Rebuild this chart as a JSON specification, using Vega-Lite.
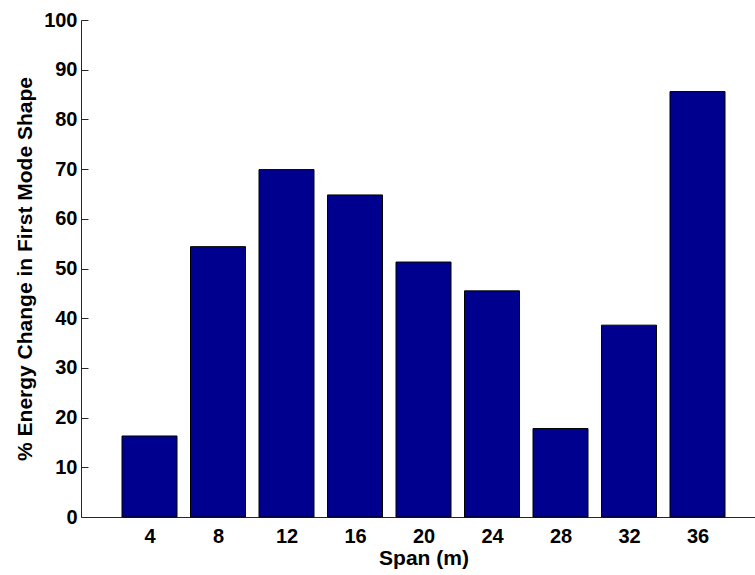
{
  "$schema": "https://vega.github.io/schema/vega-lite/v6.json",
  "autosize": {"type": "none"},
  "padding": {"left": 81, "top": 20, "right": 0, "bottom": 58},
  "width": 685,
  "height": 497,
  "background": "white",
  "data": {
    "values": [
      {"span": 4, "energy": 16.3},
      {"span": 8, "energy": 54.4},
      {"span": 12, "energy": 69.9},
      {"span": 16, "energy": 64.8},
      {"span": 20, "energy": 51.3},
      {"span": 24, "energy": 45.5},
      {"span": 28, "energy": 17.8},
      {"span": 32, "energy": 38.6},
      {"span": 36, "energy": 85.6}
    ]
  },
  "config": {
    "view": {"stroke": null},
    "axis": {
      "labelFont": "Liberation Sans",
      "titleFont": "Liberation Sans",
      "labelFontWeight": "bold",
      "titleFontWeight": "bold",
      "labelColor": "black",
      "titleColor": "black",
      "domainColor": "#262626",
      "tickColor": "#262626",
      "grid": false
    }
  },
  "mark": {"type": "bar", "size": 55, "color": "#00008F", "stroke": "black", "strokeWidth": 1},
  "encoding": {
    "x": {
      "field": "span",
      "type": "quantitative",
      "scale": {"domain": [0, 40], "nice": false, "zero": true, "padding": 0},
      "axis": {
        "title": "Span (m)",
        "values": [4, 8, 12, 16, 20, 24, 28, 32, 36],
        "ticks": false,
        "labelFontSize": 20,
        "labelPadding": 9,
        "titleFontSize": 21,
        "titlePadding": 1
      }
    },
    "y": {
      "field": "energy",
      "type": "quantitative",
      "scale": {"domain": [0, 100], "nice": false, "padding": 0},
      "axis": {
        "title": "% Energy Change in First Mode Shape",
        "values": [0, 10, 20, 30, 40, 50, 60, 70, 80, 90, 100],
        "ticks": false,
        "grid": true,
        "gridColor": "#262626",
        "gridOpacity": 1,
        "gridDash": [7, 2000],
        "labelPadding": 4,
        "labelFontSize": 20,
        "titleFontSize": 21,
        "titlePadding": 8
      }
    }
  }
}
